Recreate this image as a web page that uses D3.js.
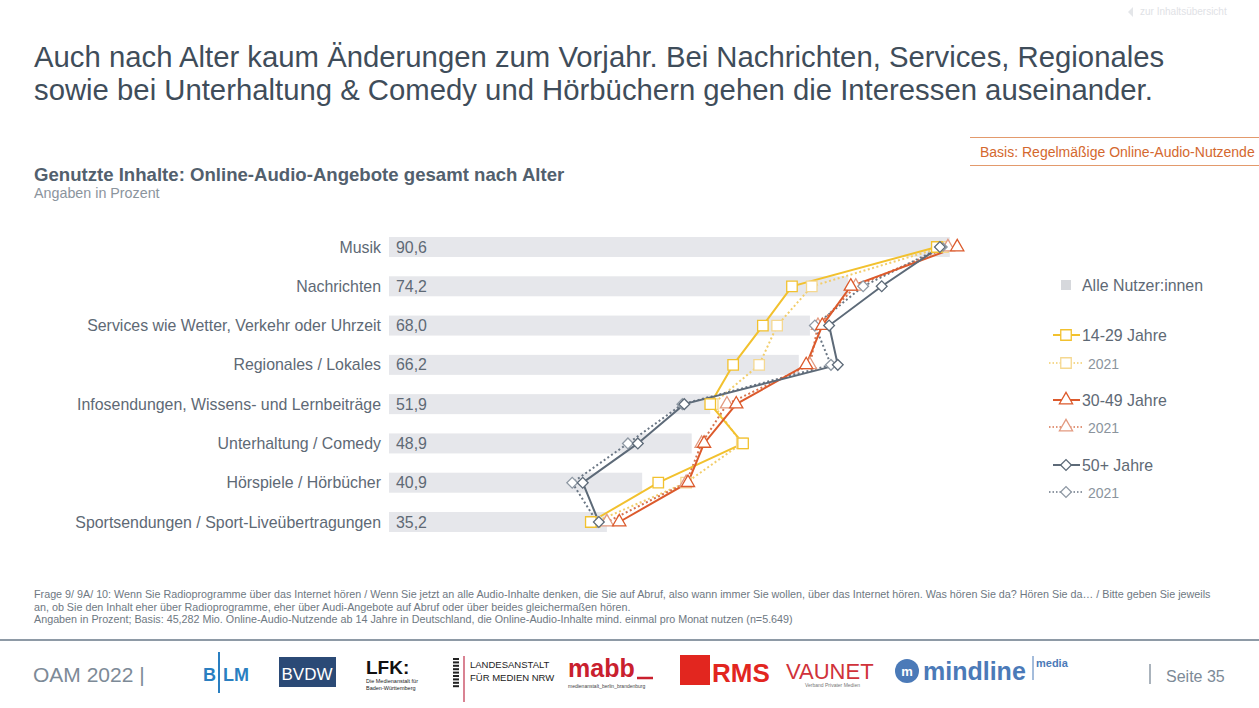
<!DOCTYPE html>
<html><head><meta charset="utf-8">
<script src="https://cdn.jsdelivr.net/npm/d3@7"></script>
<style>
html,body{margin:0;padding:0;background:#fff;}
svg{display:block;font-family:"Liberation Sans",Arial,sans-serif;}
</style></head>
<body><svg id="c" width="1259" height="708"></svg>
<script>
const categories = ["Musik","Nachrichten","Services wie Wetter, Verkehr oder Uhrzeit","Regionales / Lokales","Infosendungen, Wissens- und Lernbeiträge","Unterhaltung / Comedy","Hörspiele / Hörbücher","Sportsendungen / Sport-Liveübertragungen"];
const allUsers = [90.6,74.2,68.0,66.2,51.9,48.9,40.9,35.2];
const age1429 = [88.5,65.1,60.4,55.6,51.9,57.2,43.5,32.6];
const age1429_2021 = [89.5,68.3,62.7,59.8,52.3,57.0,48.0,33.3];
const age3049 = [91.8,74.6,70.0,67.4,56.1,50.9,48.3,37.2];
const age3049_2021 = [90.3,75.4,69.3,68.0,54.6,50.5,48.0,35.2];
const age50 = [89.0,79.6,71.1,72.5,47.7,40.2,31.3,33.9];
const age50_2021 = [89.3,76.6,68.8,71.4,47.4,38.6,29.6,33.6];
const legendLabels = ["Alle Nutzer:innen","14-29 Jahre","2021","30-49 Jahre","2021","50+ Jahre","2021"];

const svg = d3.select("#c");
const x = d3.scaleLinear().domain([0,100]).range([389,1008]);
const y = d3.scalePoint().domain(categories).range([247,522]);
const fmt = v => d3.format(".1f")(v).replace(".",",");
const FS = 15.9;

// title
svg.append("text").attr("x",34).attr("y",67).attr("font-size",29.3).attr("fill","#3f4d5a")
  .text("Auch nach Alter kaum Änderungen zum Vorjahr. Bei Nachrichten, Services, Regionales");
svg.append("text").attr("x",34).attr("y",100).attr("font-size",29.3).attr("fill","#3f4d5a")
  .text("sowie bei Unterhaltung & Comedy und Hörbüchern gehen die Interessen auseinander.");
// nav link
svg.append("path").attr("d","M1133,7 L1128,12 L1133,17 Z").attr("fill","#e4e6e9");
svg.append("text").attr("x",1140).attr("y",15).attr("font-size",10).attr("fill","#dfe2e6").text("zur Inhaltsübersicht");
// basis box
svg.append("line").attr("x1",970).attr("x2",1259).attr("y1",137.5).attr("y2",137.5).attr("stroke","#e39a6c").attr("stroke-width",1);
svg.append("line").attr("x1",970).attr("x2",1259).attr("y1",165.5).attr("y2",165.5).attr("stroke","#e39a6c").attr("stroke-width",1);
svg.append("text").attr("x",980).attr("y",157).attr("font-size",14).attr("fill","#d4682e").text("Basis: Regelmäßige Online-Audio-Nutzende");
// chart title
svg.append("text").attr("x",34).attr("y",181).attr("font-size",18.6).attr("font-weight","bold").attr("fill","#52606d")
  .text("Genutzte Inhalte: Online-Audio-Angebote gesamt nach Alter");
svg.append("text").attr("x",34).attr("y",198).attr("font-size",14.3).attr("fill","#8b949d").text("Angaben in Prozent");

// bars
const bh = 20;
svg.append("g").selectAll("rect").data(categories).join("rect")
  .attr("x",x(0)).attr("y",d=>y(d)-bh/2).attr("width",(d,i)=>x(allUsers[i])-x(0)).attr("height",bh)
  .attr("fill","#e6e7eb");
svg.append("g").selectAll("text").data(categories).join("text")
  .attr("x",x(0)+7).attr("y",d=>y(d)+5.5).attr("font-size",FS).attr("fill","#5e6975")
  .text((d,i)=>fmt(allUsers[i]));
svg.append("g").selectAll("text").data(categories).join("text")
  .attr("x",381).attr("y",d=>y(d)+5.5).attr("font-size",FS).attr("fill","#5e6975").attr("text-anchor","end")
  .text(d=>d);

const yellow="#f2c12e", orange="#dc5a2c", grey="#5d6a78";
const series = [
  {v:age1429_2021,c:"#f2cd6a",dash:"2,2.5",shape:"sq",mc:"#f5d890"},
  {v:age3049_2021,c:"#d7744f",dash:"2,2.5",shape:"tri",mc:"#e39a80"},
  {v:age50_2021,c:"#6a7684",dash:"2,2.5",shape:"dia",mc:"#8f99a4"},
  {v:age1429,c:yellow,dash:null,shape:"sq",mc:yellow},
  {v:age3049,c:orange,dash:null,shape:"tri",mc:orange},
  {v:age50,c:grey,dash:null,shape:"dia",mc:grey}
];
const symPath = {
  sq: d3.symbol(d3.symbolSquare,110)(),
  tri: d3.symbol(d3.symbolTriangle,75)(),
  dia: d3.symbol(d3.symbolSquare,58)()
};
const line = d3.line().x(d=>x(d.v)).y(d=>y(d.c));
series.forEach(s=>{
  const pts = categories.map((c,i)=>({c:c,v:s.v[i]}));
  svg.append("path").datum(pts).attr("d",line).attr("fill","none").attr("stroke",s.c)
    .attr("stroke-width",2).attr("stroke-dasharray",s.dash);
});
series.forEach(s=>{
  const pts = categories.map((c,i)=>({c:c,v:s.v[i]}));
  svg.append("g").selectAll("path").data(pts).join("path")
    .attr("d",symPath[s.shape])
    .attr("transform",d=>`translate(${x(d.v)},${y(d.c)})`+(s.shape==="dia"?" rotate(45)":""))
    .attr("fill","#fff").attr("stroke",s.mc).attr("stroke-width",1.3);
});

// legend
const lg = svg.append("g");
lg.append("rect").attr("x",1061).attr("y",280).attr("width",10).attr("height",10).attr("fill","#d6d8dc");
lg.append("text").attr("x",1082).attr("y",291).attr("font-size",FS).attr("fill","#5e6975").text(legendLabels[0]);
const legItems = [
  {y:335,label:legendLabels[1],s:series[3],big:true},
  {y:363,label:legendLabels[2],s:series[0],big:false},
  {y:400,label:legendLabels[3],s:series[4],big:true},
  {y:427,label:legendLabels[4],s:series[1],big:false},
  {y:465,label:legendLabels[5],s:series[5],big:true},
  {y:492,label:legendLabels[6],s:series[2],big:false}
];
legItems.forEach(it=>{
  const s = it.s;
  if(it.big){
    lg.append("line").attr("x1",1053).attr("x2",1080).attr("y1",it.y).attr("y2",it.y).attr("stroke",s.c).attr("stroke-width",2);
  } else {
    lg.append("line").attr("x1",1049).attr("x2",1084).attr("y1",it.y).attr("y2",it.y).attr("stroke",s.c).attr("stroke-width",1.5).attr("stroke-dasharray","1.5,2");
  }
  lg.append("path").attr("d",symPath[s.shape]).attr("transform",`translate(1066,${it.y})`+(s.shape==="dia"?" rotate(45)":""))
    .attr("fill","#fff").attr("stroke",s.mc).attr("stroke-width",1.3);
  lg.append("text").attr("x",it.big?1082:1088).attr("y",it.y+6).attr("font-size",it.big?FS:14)
    .attr("fill",it.big?"#5e6975":"#8b949d").text(it.label);
});

// footnote
const notes = ["Frage 9/ 9A/ 10: Wenn Sie Radioprogramme über das Internet hören / Wenn Sie jetzt an alle Audio-Inhalte denken, die Sie auf Abruf, also wann immer Sie wollen, über das Internet hören. Was hören Sie da? Hören Sie da… / Bitte geben Sie jeweils",
"an, ob Sie den Inhalt eher über Radioprogramme, eher über Audi-Angebote auf Abruf oder über beides gleichermaßen hören.",
"Angaben in Prozent; Basis: 45,282 Mio. Online-Audio-Nutzende ab 14 Jahre in Deutschland, die Online-Audio-Inhalte mind. einmal pro Monat nutzen (n=5.649)"];
notes.forEach((t,i)=>{
  svg.append("text").attr("x",34).attr("y",598+i*12.5).attr("font-size",10.75).attr("fill","#6e7882").text(t);
});
svg.append("line").attr("x1",0).attr("x2",1259).attr("y1",640).attr("y2",640).attr("stroke","#8e9aa6").attr("stroke-width",2);

// footer
svg.append("text").attr("x",33).attr("y",682).attr("font-size",21).attr("fill","#7d8a97").text("OAM 2022 |");
svg.append("line").attr("x1",1150).attr("x2",1150).attr("y1",664).attr("y2",684).attr("stroke","#8e9aa6").attr("stroke-width",1.5);
svg.append("text").attr("x",1166).attr("y",682).attr("font-size",16).attr("fill","#7d8a97").text("Seite 35");

// logos (approximations)
const L = svg.append("g");
L.append("line").attr("x1",219).attr("x2",219).attr("y1",652).attr("y2",693).attr("stroke","#2a7fc1").attr("stroke-width",2);
L.append("text").attr("x",203).attr("y",681).attr("font-size",18).attr("font-weight","bold").attr("fill","#2a7fc1").text("B");
L.append("text").attr("x",223).attr("y",681).attr("font-size",18).attr("font-weight","bold").attr("fill","#2a7fc1").text("LM");
L.append("rect").attr("x",279).attr("y",657).attr("width",57).attr("height",30).attr("fill","#2b4a76");
L.append("text").attr("x",307).attr("y",680).attr("font-size",17).attr("text-anchor","middle").attr("fill","#fff").text("BVDW");
L.append("text").attr("x",366).attr("y",674).attr("font-size",19).attr("font-weight","bold").attr("fill","#111").text("LFK:");
L.append("text").attr("x",366).attr("y",683).attr("font-size",5.5).attr("fill","#222").text("Die Medienanstalt für");
L.append("text").attr("x",366).attr("y",690).attr("font-size",5.5).attr("fill","#222").text("Baden-Württemberg");
for(let i=0;i<9;i++) L.append("rect").attr("x",453).attr("y",658+i*3.4).attr("width",6).attr("height",2).attr("fill","#222");
L.append("line").attr("x1",464).attr("x2",464).attr("y1",656).attr("y2",702).attr("stroke","#c0304a").attr("stroke-width",1.2);
L.append("text").attr("x",470).attr("y",668).attr("font-size",9.5).attr("fill","#222").text("LANDESANSTALT");
L.append("text").attr("x",470).attr("y",681).attr("font-size",9.5).attr("fill","#222").text("FÜR MEDIEN NRW");
L.append("text").attr("x",568).attr("y",677).attr("font-size",25).attr("font-weight","bold").attr("fill","#c9202e").text("mabb");
L.append("line").attr("x1",637).attr("x2",653).attr("y1",678).attr("y2",678).attr("stroke","#c9202e").attr("stroke-width",2.5);
L.append("text").attr("x",568).attr("y",688).attr("font-size",5).attr("fill","#444").text("medienanstalt_berlin_brandenburg");
L.append("rect").attr("x",680).attr("y",655).attr("width",30).attr("height",30).attr("fill","#e2261f");
L.append("text").attr("x",712).attr("y",682).attr("font-size",26).attr("font-weight","bold").attr("fill","#e2261f").text("RMS");
L.append("text").attr("x",786).attr("y",679).attr("font-size",22).attr("fill","#d0323a").text("VAUNET");
L.append("text").attr("x",805).attr("y",687).attr("font-size",5).attr("fill","#777").text("Verband Privater Medien");
L.append("circle").attr("cx",907).attr("cy",671).attr("r",12).attr("fill","#4b7ab8");
L.append("text").attr("x",907).attr("y",676).attr("font-size",13).attr("font-weight","bold").attr("text-anchor","middle").attr("fill","#fff").text("m");
L.append("text").attr("x",923).attr("y",680).attr("font-size",25).attr("font-weight","bold").attr("fill","#4b7ab8").text("mindline");
L.append("line").attr("x1",1033).attr("x2",1033).attr("y1",656).attr("y2",680).attr("stroke","#4b7ab8").attr("stroke-width",1);
L.append("text").attr("x",1036).attr("y",667).attr("font-size",11).attr("font-weight","bold").attr("fill","#4b7ab8").text("media");
</script></body></html>
